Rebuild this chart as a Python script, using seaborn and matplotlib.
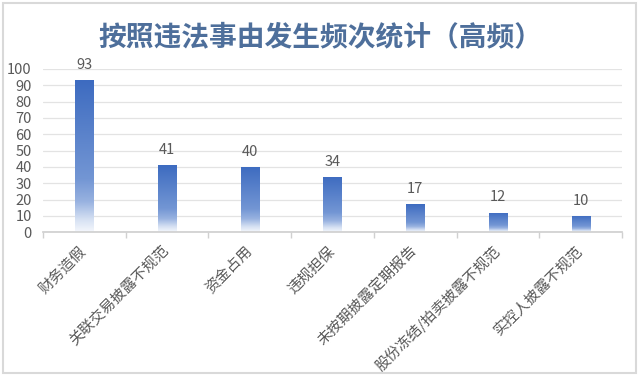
import matplotlib
matplotlib.use("Agg")
import matplotlib.pyplot as plt
from matplotlib.colors import LinearSegmentedColormap
from matplotlib.patches import Rectangle
import numpy as np
import pandas as pd
import seaborn as sns

categories = ["财务造假", "关联交易披露不规范", "资金占用", "违规担保",
              "未按期披露定期报告", "股份冻结/拍卖披露不规范", "实控人披露不规范"]
counts = [93, 41, 40, 34, 17, 12, 10]
title = "按照违法事由发生频次统计（高频）"

sns.set_theme(style="white")
plt.rcParams['font.family'] = ['Noto Sans CJK SC', 'DejaVu Sans']

df = pd.DataFrame({"cat": categories, "n": counts})

fig = plt.figure(figsize=(6.4, 3.75), dpi=100)
ax = fig.add_axes([0.067, 0.381, 0.905, 0.435])
sns.barplot(data=df, x="cat", y="n", ax=ax, width=0.22, color="#4472c4")

# gradient fill: blue at top, fading to white over the bottom fifth
cmap = LinearSegmentedColormap.from_list(
    "fade", [(0.0, "#f4f7fc"), (0.08, "#d6e1f3"), (0.2, "#98b2e0"),
             (0.35, "#7396d4"), (1.0, "#3d6bc0")])
grad = np.linspace(0, 1, 256).reshape(-1, 1)
for p in ax.patches:
    x0, y0 = p.get_x(), p.get_y()
    w, h = p.get_width(), p.get_height()
    im = ax.imshow(grad, cmap=cmap, aspect="auto", origin="lower",
                   extent=[x0, x0 + w, y0, y0 + h], zorder=2)
    im.set_clip_path(p)
    p.set_facecolor("none")
    p.set_edgecolor("none")
    ax.text(x0 + w / 2, h + 5, str(int(h)), ha="center", va="bottom",
            fontsize=10.5, color="#595959")

ax.set_xlim(-0.5, len(categories) - 0.5)
ax.set_ylim(0, 100)
ax.set_yticks(range(0, 101, 10))
ax.yaxis.grid(True, color="#e3e3e3", linewidth=0.9)
ax.set_axisbelow(True)
for s in ["top", "right", "left"]:
    ax.spines[s].set_visible(False)
ax.spines["bottom"].set_color("#d0d0d0")
ax.set_xlabel("")
ax.set_ylabel("")
ax.tick_params(axis="y", labelsize=10.5, labelcolor="#595959", length=0, pad=8)
ax.set_xticks(range(len(categories)))
ax.set_xticklabels(categories, rotation=45, ha="right", va="center",
                   rotation_mode="anchor", fontsize=10.7, color="#595959")
ax.tick_params(axis="x", length=0, pad=12)
# small tick marks between categories
ax.set_xticks(np.arange(-0.5, len(categories), 1), minor=True)
ax.tick_params(axis="x", which="minor", length=4, color="#d0d0d0", bottom=True)

fig.text(0.5, 0.9, title, ha="center", va="center", fontsize=20,
         fontweight="bold", color="#4e6f9b")
fig.patches.append(Rectangle((0.004, 0.006), 0.99, 0.986, transform=fig.transFigure,
                             fill=False, edgecolor="#d9d9d9", linewidth=1.5))

fig.savefig("out.png", dpi=100)
